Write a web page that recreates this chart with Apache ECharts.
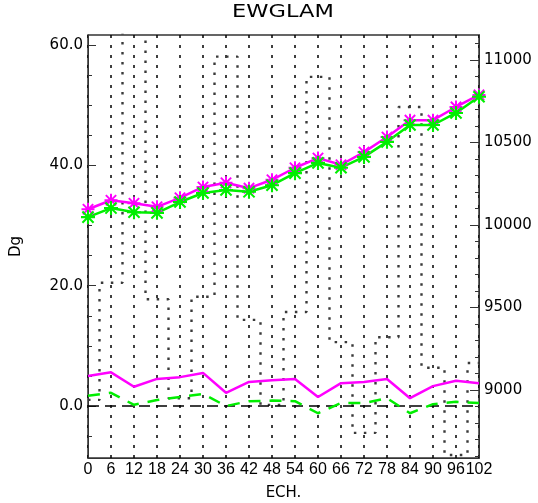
<!DOCTYPE html>
<html>
<head>
<meta charset="utf-8">
<script src="https://cdn.jsdelivr.net/npm/echarts@6/dist/echarts.min.js"></script>
<style>
  html, body { margin: 0; padding: 0; background: #fff; }
  #chart { width: 538px; height: 503px; }
</style>
</head>
<body>
<div id="chart"></div>
<script>
'use strict'
// forecast range (hours)
const hours = [0, 6, 12, 18, 24, 30, 36, 42, 48, 54, 60, 66, 72, 78, 84, 90, 96, 102];
// upper curves with asterisks (left axis, Dg)
const upperMagenta = [32.7, 34.2, 33.7, 33.1, 34.6, 36.4, 37.1, 36.2, 37.6, 39.6, 41.2, 40.1, 42.2, 44.7, 47.5, 47.5, 49.7, 51.7];
const upperGreen = [31.4, 32.9, 32.2, 32.1, 33.9, 35.4, 35.9, 35.6, 36.7, 38.7, 40.4, 39.6, 41.4, 43.9, 46.7, 46.7, 48.7, 51.4];
// lower curves (left axis, Dg)
const lowerMagenta = [5.0, 5.6, 3.2, 4.5, 4.8, 5.5, 2.2, 4.0, 4.3, 4.5, 1.5, 3.8, 4.0, 4.5, 1.3, 3.3, 4.2, 3.8];
const lowerGreen = [1.7, 2.2, 0.2, 1.0, 1.5, 2.0, 0.0, 0.8, 0.9, 0.8, -1.2, 0.5, 0.5, 1.3, -1.2, 0.3, 0.7, 0.5];
const zeroLine = [0, 0, 0, 0, 0, 0, 0, 0, 0, 0, 0, 0, 0, 0, 0, 0, 0, 0];
// dotted histogram (right axis)
const cases = [8940, 9650, 11400, 9550, 8950, 9565, 11020, 9425, 8910, 9473, 10897, 9290, 8740, 9320, 10715, 9135, 8606, 9164];
// tick labels
const leftTicks = [0, 20, 40, 60];
const leftMinor = [-5, 5, 10, 15, 25, 30, 35, 45, 50, 55];
const rightTicks = [9000, 9500, 10000, 10500, 11000];
const rightMinor = [8600, 8700, 8800, 8900, 9100, 9200, 9300, 9400, 9600, 9700, 9800, 9900, 10100, 10200, 10300, 10400, 10600, 10700, 10800, 10900, 11100];

const FONT = 'DejaVu Sans';
// IDL style asterisk (plus + cross), slightly thick arms
const star = 'path://M8.5 0L11.5 0L11.5 20L8.5 20Z M0 8.5L20 8.5L20 11.5L0 11.5Z M1 3.1L3.1 1L19 16.9L16.9 19Z M16.9 1L19 3.1L3.1 19L1 16.9Z';

const pairs = (ys) => hours.map((h, i) => [h, ys[i]]);

let chart = echarts.init(document.getElementById('chart'));
let option = {
  animation: false,
  graphic: [{
    type: 'text',
    x: 283, y: 3,
    scaleX: 1.25,
    style: { text: 'EWGLAM', font: '18px "' + FONT + '"', textAlign: 'center', fill: '#000' }
  }],
  grid: {
    left: 88, right: 59, top: 35, bottom: 45,
    outerBoundsMode: 'none',
    show: true, borderColor: '#333', borderWidth: 1.5
  },
  xAxis: {
    type: 'value', min: 0, max: 102, interval: 6,
    name: 'ECH.', nameLocation: 'middle', nameGap: 28,
    nameTextStyle: { color: '#000', fontFamily: FONT, fontSize: 15 },
    axisLine: { onZero: false, lineStyle: { color: '#333' } },
    axisTick: { show: false },
    axisLabel: { color: '#000', fontFamily: 'Liberation Sans', fontSize: 16, margin: 4, showMinLabel: true, showMaxLabel: true, hideOverlap: false },
    splitLine: { show: true, lineStyle: { color: '#000', type: [3, 7], width: 1.5 } }
  },
  yAxis: [{
    type: 'value', min: -8.64, max: 61.66, position: 'left',
    name: 'Dg', nameLocation: 'middle', nameGap: 64, nameRotate: 90,
    nameTextStyle: { color: '#000', fontFamily: FONT, fontSize: 15 },
    axisLine: { show: true, lineStyle: { color: '#333' } },
    axisTick: { show: true, inside: true, length: 8, customValues: leftTicks, lineStyle: { color: '#333' } },
    axisLabel: { customValues: leftTicks, color: '#000', fontFamily: FONT, fontSize: 15, margin: 5, formatter: (v) => v.toFixed(1) },
    splitLine: { show: false }
  }, {
    type: 'value', min: 8588, max: 11151, position: 'right',
    axisLine: { show: true, lineStyle: { color: '#333' } },
    axisTick: { show: true, inside: true, length: 9, customValues: rightTicks, lineStyle: { color: '#333' } },
    axisLabel: { customValues: rightTicks, color: '#000', fontFamily: FONT, fontSize: 15, margin: 5, formatter: (v) => String(v) },
    splitLine: { show: false }
  }, {
    // minor ticks left
    type: 'value', min: -8.64, max: 61.66, position: 'left',
    axisLine: { show: false },
    axisTick: { show: true, inside: true, length: 4, customValues: leftMinor, lineStyle: { color: '#333' } },
    axisLabel: { show: false },
    splitLine: { show: false }
  }, {
    // minor ticks right
    type: 'value', min: 8588, max: 11151, position: 'right',
    axisLine: { show: false },
    axisTick: { show: true, inside: true, length: 4, customValues: rightMinor, lineStyle: { color: '#333' } },
    axisLabel: { show: false },
    splitLine: { show: false }
  }],
  series: [{
    type: 'line', yAxisIndex: 1, step: 'middle', data: pairs(cases),
    showSymbol: false, clip: true,
    lineStyle: { color: '#3a3a3a', width: 2.4, type: [2.5, 7.5] }
  }, {
    type: 'line', data: pairs(zeroLine), showSymbol: false,
    lineStyle: { color: '#000', width: 1.5, type: [11, 6] }
  }, {
    type: 'line', data: pairs(upperMagenta),
    symbol: star, symbolSize: 13,
    itemStyle: { color: '#ff00ff' },
    lineStyle: { color: '#ff00ff', width: 2.5 }
  }, {
    type: 'line', data: pairs(upperGreen),
    symbol: star, symbolSize: 14,
    itemStyle: { color: '#00ee00' },
    lineStyle: { color: '#00ee00', width: 2.5 }
  }, {
    type: 'line', data: pairs(lowerMagenta), showSymbol: false,
    lineStyle: { color: '#ff00ff', width: 2.5 }
  }, {
    type: 'line', data: pairs(lowerGreen), showSymbol: false,
    lineStyle: { color: '#00ee00', width: 2.5, type: [12, 9] }
  }]
};
chart.setOption(option);
</script>
</body>
</html>
